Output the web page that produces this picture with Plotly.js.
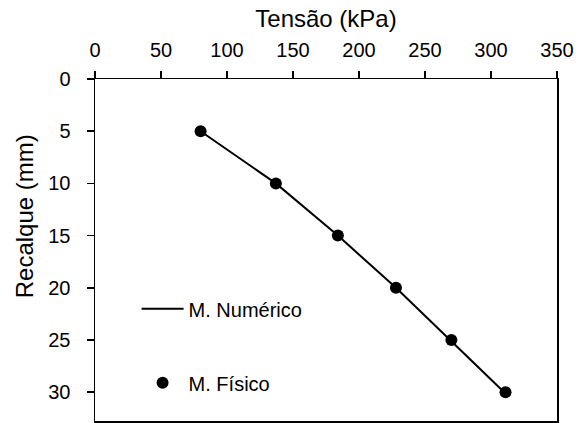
<!DOCTYPE html>
<html>
<head>
<meta charset="utf-8">
<script src="https://cdn.plot.ly/plotly-3.0.1.min.js"></script>
<style>html,body{margin:0;padding:0;background:#fff;}#chart{width:582px;height:423px;}</style>
</head>
<body>
<div id="chart"></div>
<script>
// Data
const tensaoFisico = [80, 137, 184, 228, 270, 311];
const recalqueFisico = [5, 10, 15, 20, 25, 30];
const tensaoNumerico = [80, 137, 184, 228, 269, 310];
const recalqueNumerico = [5, 10, 15, 20, 25, 30];
const xTicks = [0, 50, 100, 150, 200, 250, 300, 350];
const yTicks = [0, 5, 10, 15, 20, 25, 30];

const FONT = 'Liberation Sans, Arial, sans-serif';

const traces = [
  {
    x: tensaoNumerico, y: recalqueNumerico,
    type: 'scatter', mode: 'lines', name: 'M. Numérico',
    line: {color: '#000', width: 2},
    legendgroup: 'a'
  },
  {
    x: tensaoFisico, y: recalqueFisico,
    type: 'scatter', mode: 'markers', name: 'M. Físico',
    marker: {color: '#000', size: 12},
    legendgroup: 'b'
  }
];

const layout = {
  width: 582, height: 423,
  margin: {l: 95, r: 25, t: 79, b: 2},
  paper_bgcolor: '#fff', plot_bgcolor: '#fff',
  font: {family: FONT, color: '#000', size: 20},
  showlegend: true,
  legend: {
    x: 0.09, y: 0.385, xanchor: 'left', yanchor: 'top',
    bgcolor: 'rgba(0,0,0,0)', borderwidth: 0,
    font: {family: FONT, size: 20, color: '#000'},
    itemwidth: 42, tracegroupgap: 45, traceorder: 'grouped'
  },
  xaxis: {
    side: 'top', range: [0, 350], tickvals: xTicks, ticktext: xTicks.map(String),
    showgrid: false, zeroline: false,
    showline: true, linecolor: '#000', linewidth: 1.5, mirror: true,
    ticks: 'outside', ticklen: 7, tickwidth: 1.5, tickcolor: '#000',
    ticklabelstandoff: 6,
    tickfont: {family: FONT, size: 20, color: '#000'},
    title: {text: 'Tensão (kPa)', font: {family: FONT, size: 24, color: '#000'}, standoff: 4}
  },
  yaxis: {
    range: [32.76, 0], tickvals: yTicks, ticktext: yTicks.map(String),
    showgrid: false, zeroline: false,
    showline: true, linecolor: '#000', linewidth: 1.5, mirror: true,
    ticks: 'outside', ticklen: 7, tickwidth: 1.5, tickcolor: '#000',
    ticklabelstandoff: 12,
    tickfont: {family: FONT, size: 20, color: '#000'}
  },
  annotations: [{
    text: 'Recalque (mm)', textangle: -90,
    xref: 'paper', yref: 'paper', x: -0.152, y: 0.598,
    xanchor: 'center', yanchor: 'middle', showarrow: false,
    font: {family: FONT, size: 24, color: '#000'}
  }]
};

Plotly.newPlot('chart', traces, layout, {displayModeBar: false, staticPlot: true});
</script>
</body>
</html>
